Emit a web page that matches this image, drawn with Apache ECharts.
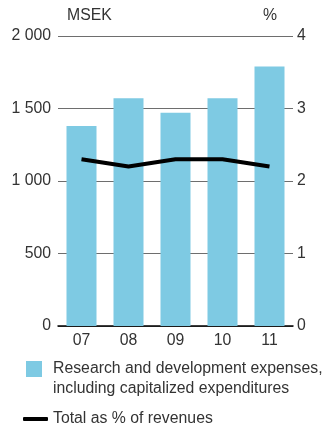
<!DOCTYPE html>
<html>
<head>
<meta charset="utf-8">
<script src="https://cdn.jsdelivr.net/npm/echarts@6/dist/echarts.min.js"></script>
<style>
  html, body { margin: 0; padding: 0; background: #fff; }
  #chart { width: 323px; height: 423px; }
</style>
</head>
<body>
<div id="chart"></div>
<script>
const years = ['07', '08', '09', '10', '11']
const rdExpenses = [1380, 1570, 1470, 1570, 1790]
const pctOfRevenues = [2.3, 2.2, 2.3, 2.3, 2.2]
const barName = 'Research and development expenses,\nincluding capitalized expenditures'
const lineName = 'Total as % of revenues'

const font = 'Liberation Sans, Arial, sans-serif'
const txt = '#333'
const fs = 15.8

let chart = echarts.init(document.getElementById('chart'))
chart.setOption({
  animation: false,
  textStyle: { fontFamily: font },
  grid: { left: 58, right: 30, top: 36, bottom: 97, containLabel: false },
  legend: [
    {
      data: [barName],
      left: 26, top: 339, padding: 0,
      icon: 'rect', itemWidth: 16, itemHeight: 16,
      // empty first line so the square lines up with the first text line
      formatter: name => '\n' + name,
      textStyle: { fontSize: fs, color: txt, lineHeight: 20, padding: [0, 0, 0, 6], fontFamily: font }
    },
    {
      data: [lineName],
      left: 23, top: 409, padding: 0,
      icon: 'roundRect', itemWidth: 25, itemHeight: 4,
      textStyle: { fontSize: fs, color: txt, lineHeight: 20, fontFamily: font }
    }
  ],
  xAxis: {
    type: 'category',
    data: years,
    axisLine: { lineStyle: { color: '#000', width: 1.5 } },
    axisTick: { show: false },
    axisLabel: { fontSize: fs, color: txt, margin: 7 }
  },
  yAxis: [
    {
      type: 'value', min: 0, max: 2000, interval: 500,
      name: 'MSEK', nameGap: 12,
      nameTextStyle: { fontSize: fs, color: txt, align: 'left', padding: [0, 0, 0, 9] },
      axisLine: { show: false }, axisTick: { show: false },
      axisLabel: {
        fontSize: fs, color: txt, margin: 7,
        formatter: v => String(v).replace(/\B(?=(\d{3})+(?!\d))/g, ' ')
      },
      splitLine: { lineStyle: { color: '#6e6e6e', width: 1 } }
    },
    {
      type: 'value', min: 0, max: 4, interval: 1,
      name: '%', nameGap: 12,
      nameTextStyle: { fontSize: fs, color: txt, align: 'right', padding: [0, 16, 0, 0] },
      axisLine: { show: false }, axisTick: { show: false },
      axisLabel: { fontSize: fs, color: txt, margin: 4 },
      splitLine: { show: false }
    }
  ],
  series: [
    {
      name: barName, type: 'bar', data: rdExpenses,
      barWidth: 30, itemStyle: { color: '#7ecae3' }
    },
    {
      name: lineName, type: 'line', yAxisIndex: 1, data: pctOfRevenues,
      symbol: 'none', lineStyle: { color: '#000', width: 4 },
      itemStyle: { color: '#000' }
    }
  ]
})
</script>
</body>
</html>
